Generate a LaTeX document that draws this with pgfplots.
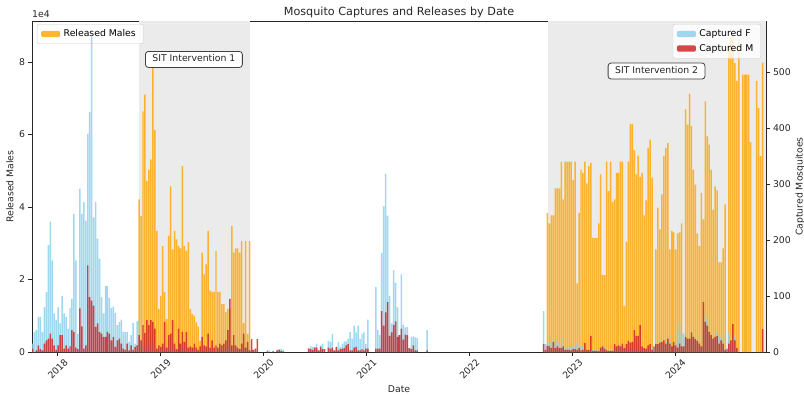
\documentclass[border=0pt]{standalone}
\usepackage{pgfplots}
\pgfplotsset{compat=1.18}
\usepackage{pgfplotstable}
\usepackage{fontspec}
\setmainfont{DejaVu Sans}
\definecolor{relorange}{RGB}{255,165,0}
\definecolor{capblue}{RGB}{135,206,235}
\definecolor{capred}{RGB}{205,40,40}
\definecolor{sitshade}{RGB}{235,235,235}
\newcommand{\fs}{\fontsize{9.3bp}{11bp}\selectfont}

% week index: year = 2017.755 + w*0.019165
\pgfplotstableread{
w R
54 42100
55 37500
56 66400
57 71000
58 47100
59 50300
60 53100
61 79700
62 61300
63 33400
64 11800
65 15500
66 29200
67 16500
68 9100
69 32000
70 45700
71 28300
72 33400
73 31100
74 29200
75 28600
76 51300
77 29200
78 27900
79 30300
80 11800
81 10500
82 10000
83 8200
84 7000
85 3100
86 27400
87 21400
88 24200
89 33400
90 16900
91 16600
92 16600
93 27900
94 16600
95 16600
96 13200
97 13200
98 11000
99 12000
100 12000
101 34700
102 27400
103 28600
104 28600
105 27400
106 30600
107 8000
108 30600
109 5000
110 30600
261 38400
262 35500
263 37700
264 37700
265 45100
266 45100
267 45100
268 52500
269 42100
270 52500
271 52500
272 52500
273 52500
274 47400
275 52500
276 18900
277 38400
278 50300
279 49400
280 52500
281 46500
282 51300
283 52200
284 31500
285 31500
286 31500
287 35500
288 49000
289 21200
290 21200
291 52500
292 44400
293 52500
294 41400
295 42100
296 49400
297 49400
298 52500
299 52500
300 12700
301 30400
302 52500
303 62900
304 62900
305 55600
306 49000
307 54200
308 48300
309 49400
310 37700
311 41800
312 56300
313 58600
314 48100
316 28300
317 39800
318 33800
319 43500
320 54000
321 56300
322 57700
323 28300
324 33400
325 33000
326 28300
327 32700
328 33000
329 35500
331 66900
332 62700
333 71300
334 62300
335 50300
336 46200
337 32700
338 29200
339 43900
340 36600
341 69100
342 59500
343 57200
344 50300
345 39300
346 45700
347 44600
348 24700
349 24700
350 28600
351 40700
353 84000
354 87000
355 87000
356 79700
357 74800
358 86000
360 76500
361 76500
362 76500
363 76500
364 57900
367 74800
368 67300
369 54000
370 79800
}\reldata

\pgfplotstableread{
w F M
0 15 6
1 36 0
2 39 3
3 63 12
4 63 5
5 36 3
6 80 15
7 107 21
8 191 24
9 233 33
10 164 24
11 69 12
12 57 4
13 80 12
14 51 30
15 100 30
16 69 6
17 63 12
18 42 6
19 79 10
20 95 39
21 247 36
22 164 8
23 33 5
24 292 78
25 247 46
26 268 6
27 235 12
28 390 155
29 429 98
30 564 92
31 241 83
32 268 45
33 203 51
34 167 36
35 98 33
36 69 27
37 118 27
38 118 36
39 97 33
40 79 21
41 81 27
42 70 9
43 48 21
44 54 24
45 58 15
46 36 6
47 36 4
48 36 15
49 18 3
50 30 12
51 52 4
52 15 9
53 55 12
54 57 30
55 20 21
56 12 48
57 10 34
58 15 57
59 12 48
60 10 57
61 15 54
62 8 42
63 5 6
64 6 12
65 4 9
66 8 15
67 10 54
68 4 8
69 8 30
70 10 33
71 12 57
72 6 15
73 3 5
74 10 42
75 5 15
76 8 36
77 6 18
78 10 36
79 3 8
80 4 10
81 3 8
82 5 15
83 3 8
84 2 4
85 3 10
86 6 27
87 4 12
88 3 10
89 8 33
90 3 8
91 5 21
92 3 8
93 4 12
94 3 8
95 5 15
96 4 12
97 5 15
98 6 21
99 10 39
100 20 95
101 4 12
102 8 30
103 4 12
104 3 8
105 2 5
106 5 15
107 8 33
108 3 8
109 5 18
110 2 3
111 0 23
112 0 4
113 0 6
114 0 23
119 3 1
120 3 0
122 2 1
124 4 3
125 5 4
126 5 2
127 4 1
140 7 6
141 10 5
142 9 4
143 9 8
144 15 8
145 3 3
146 12 9
147 15 5
148 0 5
150 20 8
151 18 6
152 32 8
153 3 3
154 9 9
155 18 3
156 9 5
157 15 6
158 19 7
159 19 12
160 24 14
161 36 3
162 24 3
163 47 8
164 35 9
165 47 3
166 23 3
167 33 5
168 35 3
169 14 6
170 58 6
174 116 6
175 39 6
176 30 6
177 177 73
178 261 47
179 319 71
180 244 89
181 100 29
182 51 35
183 146 48
184 124 55
185 80 27
186 30 30
187 139 42
188 49 22
189 44 31
190 45 30
191 7 7
192 27 5
193 28 12
194 26 3
195 25 3
200 39 3
259 73 14
260 14 4
261 14 11
262 18 10
263 20 7
264 21 18
265 17 7
266 21 10
267 16 7
268 10 7
269 27 10
270 7 4
271 7 4
272 7 4
273 7 3
274 10 5
275 8 5
276 16 4
277 10 7
278 11 3
279 10 4
280 7 16
281 4 4
282 3 4
283 7 29
284 4 2
285 4 2
286 3 2
287 2 1
288 8 8
289 10 10
290 10 6
291 4 3
292 3 2
293 3 2
294 3 2
295 12 14
296 6 10
297 8 12
298 12 10
299 6 15
300 5 7
301 8 14
302 8 20
303 6 17
304 6 18
305 8 39
306 6 29
307 6 29
308 6 48
309 9 10
310 6 7
311 5 6
312 6 12
313 12 14
314 7 4
315 8 10
316 14 14
317 10 14
318 21 17
319 12 18
320 12 21
321 18 15
322 24 24
323 18 15
324 8 10
325 12 18
326 16 12
327 42 8
328 51 15
329 33 10
330 33 10
331 24 27
332 22 24
333 20 24
334 33 35
335 27 27
336 22 23
337 18 20
338 10 15
339 8 10
340 51 89
341 67 54
342 57 47
343 36 36
344 25 30
345 24 24
346 22 27
347 36 29
348 30 15
349 27 21
350 24 15
351 4 4
352 4 6
353 35 15
354 18 21
355 12 50
356 27 21
357 6 7
370 0 41
}\capdata

\pgfplotsset{
  mybar/.style={ybar, bar width=0.75, bar shift=0pt, draw=none,
    legend image code/.code={\fill[##1] (0bp,-3.2bp) rectangle (19bp,3.2bp);}},
  common/.style={scale only axis, width=734bp, height=331bp,
    xmin=-0.26, xmax=371.77, at={(0,0)}, anchor=south west,
    tick align=outside, major tick length=3.5bp,
    axis line style={black!85, line width=0.8bp},
    tick style={black!85, line width=0.8bp},
    ticklabel style={font=\fs, text=black!85},
    label style={font=\fs, text=black!85},
    legend cell align=left,
    legend style={font=\fs, fill=white, fill opacity=0.8, text opacity=1,
      draw=black!20, draw opacity=1, rounded corners=2bp, inner xsep=4bp, inner ysep=3.5bp,
      row sep=2bp, nodes={inner xsep=3.5bp}}},
}
\tikzset{
  sitbox/.style={draw=black!75, line width=0.8bp, rounded corners=3bp, fill=white,
    font=\fs, text=black!85, inner xsep=7bp, inner ysep=3.5bp, text height=7bp, text depth=2bp}
}

\begin{document}
\begin{tikzpicture}
\begin{axis}[common,
  ymin=0, ymax=91300,
  ytick={0,20000,40000,60000,80000}, yticklabels={0,2,4,6,8}, scaled y ticks=false,
  xtick={12.78,64.96,117.14,169.32,221.50,273.68,325.86},
  xticklabels={2018,2019,2020,2021,2022,2023,2024},
  xtick pos=lower, ytick pos=left,
  xticklabel style={yshift=-13.5bp, rotate=45, anchor=center},
  xlabel={Date}, xlabel style={at={(rel axis cs:0.5,0)}, anchor=center, yshift=-37bp},
  ylabel={Released Males}, ylabel style={at={([xshift=-22bp]rel axis cs:0,0.5)}, anchor=center},
  title={Mosquito Captures and Releases by Date},
  every axis title/.style={font=\fontsize{11.2bp}{13bp}\selectfont, text=black!85, at={(rel axis cs:0.5,1)}, anchor=base, yshift=6bp, inner sep=0pt},
  legend style={at={(rel axis cs:0,1)}, anchor=north west, xshift=5bp, yshift=-3bp},
]
\fill[sitshade] (axis cs:53.9,0) rectangle (axis cs:110.1,91300);
\fill[sitshade] (axis cs:261.3,0) rectangle (axis cs:371.77,91300);
\addplot[mybar, fill=relorange, fill opacity=0.8] table[x=w,y=R]{\reldata};
\addlegendentry{Released Males}
\node[sitbox] at (axis cs:81.8,80700) {SIT Intervention 1};
\node[sitbox] at (axis cs:316.3,77500) {SIT Intervention 2};
\coordinate (bl) at (rel axis cs:0,0);
\coordinate (tr) at (rel axis cs:1,1);
\end{axis}
\begin{axis}[common,
  ymin=0, ymax=592,
  ytick={0,100,200,300,400,500}, yticklabels={0,100,200,300,400,500},
  axis y line*=right, axis x line=none,
  ylabel={Captured Mosquitoes}, ylabel style={at={([xshift=34bp]rel axis cs:1,0.5)}, anchor=center},
  legend style={at={(rel axis cs:1,1)}, anchor=north east, xshift=-5bp, yshift=-3bp},
]
\addplot[mybar, fill=capblue, fill opacity=0.8] table[x=w,y=F]{\capdata};
\addlegendentry{Captured F}
\addplot[mybar, fill=capred, fill opacity=0.85] table[x=w,y=M]{\capdata};
\addlegendentry{Captured M}
\end{axis}
\node[anchor=south west, font=\fs, text=black!85, inner sep=0pt] at ([yshift=3bp]bl |- tr) {1e4};
\pgfresetboundingbox
\path[use as bounding box] ([xshift=-32bp,yshift=-42bp]bl) rectangle ([xshift=38bp,yshift=21bp]tr);
\end{tikzpicture}
\end{document}
